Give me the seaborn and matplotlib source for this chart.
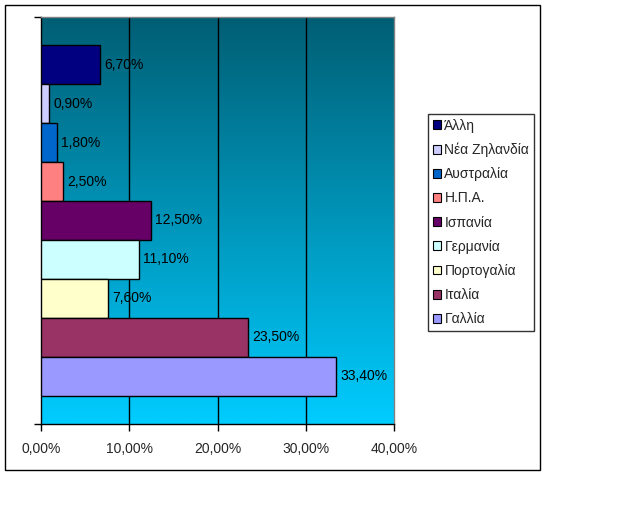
import numpy as np
import pandas as pd
import matplotlib
matplotlib.use("Agg")
import matplotlib.pyplot as plt
import seaborn as sns
from matplotlib.patches import Patch, Rectangle
from matplotlib.colors import LinearSegmentedColormap

countries = ["Άλλη", "Νέα Ζηλανδία", "Αυστραλία", "Η.Π.Α.", "Ισπανία",
             "Γερμανία", "Πορτογαλία", "Ιταλία", "Γαλλία"]
values = [6.70, 0.90, 1.80, 2.50, 12.50, 11.10, 7.60, 23.50, 33.40]
colors = ["#000080", "#CCCCFF", "#0066CC", "#FF8080", "#660066",
          "#CCFFFF", "#FFFFCC", "#993366", "#9999FF"]
xticks = [0, 10, 20, 30, 40]
xtick_labels = ["0,00%", "10,00%", "20,00%", "30,00%", "40,00%"]

sns.set_style("white")
plt.rcParams['font.family'] = ['Liberation Sans', 'DejaVu Sans']

fig = plt.figure(figsize=(6.4, 5.12), dpi=100)
fig.patch.set_facecolor("white")
ax = fig.add_axes([41/640, 1-424/512, 353/640, 407/512])

df = pd.DataFrame({"grp": [""] * len(countries), "val": values, "country": countries})
sns.barplot(data=df, x="val", y="grp", hue="country", hue_order=countries,
            palette=colors, orient="h", dodge=True, width=0.86, saturation=1,
            edgecolor="black", linewidth=1, ax=ax, legend=False, zorder=3)

# gradient background
cmap = LinearSegmentedColormap.from_list("bg", ["#005E74", "#00CCFF"])
grad = np.linspace(0, 1, 256).reshape(-1, 1)
ax.imshow(grad, cmap=cmap, aspect="auto", extent=(0, 1, 0, 1),
          transform=ax.transAxes, zorder=0, origin="upper")

ax.set_xlim(0, 40)
ax.set_ylim(0.5, -0.5)
for xv in [10, 20, 30]:
    ax.axvline(xv, color="black", lw=1, zorder=1)

for cont, v in zip(ax.containers, values):
    ax.bar_label(cont, labels=[f"{v:.2f}".replace(".", ",") + "%"],
                 padding=3, fontsize=10, color="black")

ax.set_xticks(xticks)
ax.set_xticklabels(xtick_labels, fontsize=10)
ax.set_yticks([-0.5, 0.5])
ax.set_yticklabels([])
ax.tick_params(axis="both", direction="out", length=5, width=1, color="black",
               bottom=True, left=True, pad=8)
ax.set_xlabel("")
ax.set_ylabel("")
for s in ["left", "bottom"]:
    ax.spines[s].set_color("black")
    ax.spines[s].set_linewidth(1)
for s in ["top", "right"]:
    ax.spines[s].set_color("#808080")
    ax.spines[s].set_linewidth(1)

handles = [Patch(facecolor=c, edgecolor="black", linewidth=0.8) for c in colors]
leg = fig.legend(handles, countries, loc="upper left",
                 bbox_to_anchor=(428/640, 1-114/512), fontsize=10,
                 frameon=True, fancybox=False, edgecolor="black",
                 handlelength=0.6, handleheight=0.6, handletextpad=0.25,
                 labelspacing=0.73, borderpad=0.33, borderaxespad=0)
leg.get_frame().set_linewidth(1)

fig.patches.append(Rectangle((5/640, 1-470/512), 535/640, 465/512,
                             transform=fig.transFigure, fill=False,
                             edgecolor="black", linewidth=1))

fig.savefig("out.png", dpi=100)
